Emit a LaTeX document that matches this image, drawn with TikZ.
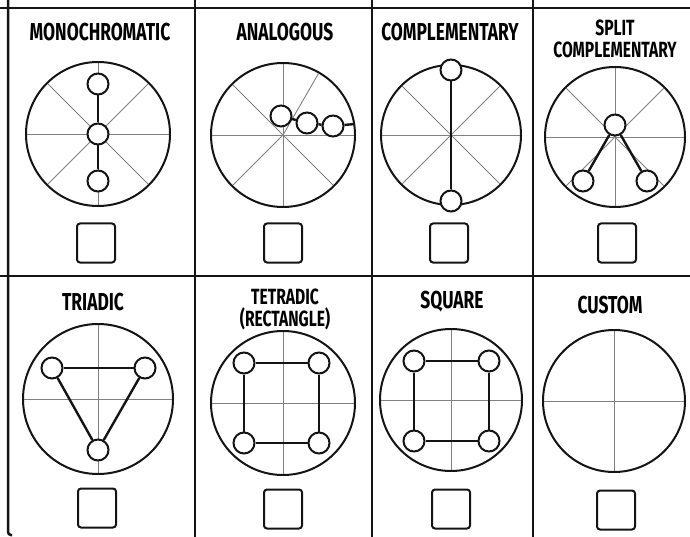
\documentclass[tikz,border=0pt]{standalone}
\usepackage{fontspec}
\newfontfamily\titlefont[FakeStretch=0.71]{Fira Sans}
\usetikzlibrary{positioning}
\definecolor{InkBlack}{HTML}{141414}
\definecolor{SpokeGray}{HTML}{808080}

\begin{document}
\begin{tikzpicture}[x=1pt, y=-1pt,
  every node/.style={font=\titlefont\bfseries\fontsize{24.5}{22}\selectfont},
  wheel/.style={circle, draw=InkBlack, line width=2pt, inner sep=0pt, outer sep=0pt},
  spoke/.style={draw=SpokeGray, line width=0.9pt, shorten >=1pt},
  hue/.style={circle, draw=InkBlack, line width=2pt, fill=white, minimum size=21pt, inner sep=0pt},
  link/.style={draw=InkBlack, line width=2.4pt},
  tickbox/.style={draw=InkBlack, line width=2pt, rounded corners=3pt, minimum width=38pt, minimum height=39pt, inner sep=0pt},
  frame/.style={draw=InkBlack, line width=2.5pt}]
\useasboundingbox (0,0) rectangle (690,537);

% panel grid
\draw[frame] (0,8) -- (690,8);
\draw[frame] (0,276) -- (690,276);
\draw[frame, rounded corners=3pt] (8,0) -- (8,535) -- (12,535);
\foreach \x in {195,372,533}{
  \draw[frame] (\x,0) -- (\x,537);
}

% titles
\foreach \name/\x/\y/\label in {mono/100/32/MONOCHROMATIC,anlg/285/32/ANALOGOUS,comp/450/32/COMPLEMENTARY,triad/93/302/TRIADIC,sqr/452/302/SQUARE,cust/610/305/CUSTOM}{
  \node (ttl-\name) at (\x,\y) {\label};
}
\node[align=center, font=\titlefont\bfseries\fontsize{22}{22}\selectfont] (ttl-split) at (615,39) {SPLIT\\COMPLEMENTARY};
\node[align=center, font=\titlefont\bfseries\fontsize{22}{22}\selectfont] (ttl-tetra) at (285,309) {TETRADIC\\(RECTANGLE)};

% wheels
\foreach \name/\x/\y/\r in {mono/98/134/72,anlg/283/135/72,comp/451/135/70,split/615/137/70,triad/98/399/75,tetra/283/403/72,sqr/451/400/71,cust/614/401/71}{
  \node[wheel, minimum size=2*\r pt] (\name) at (\x,\y) {};
}
\foreach \w in {mono,comp,split}{
  \foreach \a in {0,45,90,135,180,225,270,315}
    \draw[spoke] (\w.center) -- (\w.\a);
}
\foreach \a in {0,60,90,135,180,225,270,315}
  \draw[spoke] (anlg.center) -- (anlg.\a);
\foreach \w in {triad,tetra,sqr,cust}{
  \foreach \a in {0,90,180,270}
    \draw[spoke] (\w.center) -- (\w.\a);
}

% colour dots
\node[hue] (m1) at (98,84) {};
\node[hue] (m2) at (98,134) {};
\node[hue] (m3) at (98,181) {};
\draw[link] (m1) -- (m2);
\draw[link] (m2) -- (m3);

\node[hue] (a1) at (281,116) {};
\node[hue] (a2) at (307,123) {};
\node[hue] (a3) at (333,126) {};
\coordinate (a4) at (355,124);
\draw[link] (a1) -- (a2);
\draw[link] (a2) -- (a3);
\draw[link] (a3) -- (a4);

\node[hue] (c1) at (451,70) {};
\node[hue] (c2) at (451,201) {};
\draw[link] (c1) -- (c2);

\node[hue] (s1) at (615,125) {};
\node[hue] (s2) at (583,181) {};
\node[hue] (s3) at (647,181) {};
\draw[link] (s1) -- (s2);
\draw[link] (s1) -- (s3);

\node[hue] (t1) at (52,368) {};
\node[hue] (t2) at (145,368) {};
\node[hue] (t3) at (98,450) {};
\draw[link] (t1) -- (t2);
\draw[link] (t2) -- (t3);
\draw[link] (t3) -- (t1);

\node[hue] (r1) at (244,363) {};
\node[hue] (r2) at (319,363) {};
\node[hue] (r3) at (319,443) {};
\node[hue] (r4) at (244,443) {};
\draw[link] (r1) -- (r2);
\draw[link] (r2) -- (r3);
\draw[link] (r3) -- (r4);
\draw[link] (r4) -- (r1);

\node[hue] (q1) at (414,361) {};
\node[hue] (q2) at (489,361) {};
\node[hue] (q3) at (489,441) {};
\node[hue] (q4) at (414,441) {};
\draw[link] (q1) -- (q2);
\draw[link] (q2) -- (q3);
\draw[link] (q3) -- (q4);
\draw[link] (q4) -- (q1);

% check boxes
\foreach \name/\x/\y in {mono/96/243,anlg/283/243,comp/449/243,split/617/243,triad/97/508,tetra/283/509,sqr/451/509,cust/616/510}{
  \node[tickbox] (box-\name) at (\x,\y) {};
}
\end{tikzpicture}
\end{document}
